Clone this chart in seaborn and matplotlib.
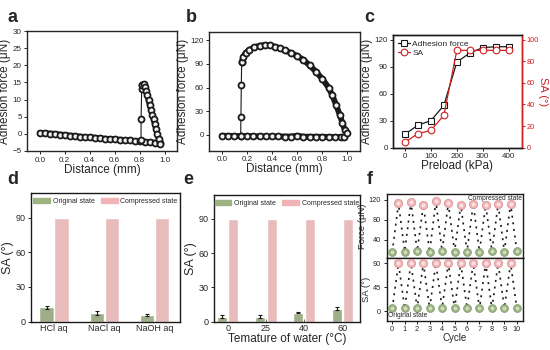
import matplotlib
matplotlib.use("Agg")
import numpy as np
import pandas as pd
import seaborn as sns
import matplotlib.pyplot as plt

# ---- data ----
# a: force-distance curve, small adhesion
a_base_x = [0.00, 0.04, 0.08, 0.12, 0.16, 0.20, 0.24, 0.28, 0.32, 0.36, 0.40, 0.44, 0.48,
            0.52, 0.56, 0.60, 0.64, 0.68, 0.72, 0.76, 0.80, 0.84, 0.88, 0.92, 0.96]
a_base_y = [0.3, 0.2, 0.1, 0.0, -0.2, -0.3, -0.5, -0.6, -0.8, -0.9, -1.0, -1.1, -1.3,
            -1.4, -1.5, -1.6, -1.7, -1.8, -1.9, -2.1, -2.2, -2.3, -2.4, -2.6, -2.8]
a_jump_x = [0.81, 0.81, 0.815, 0.82]
a_jump_y = [-1.7, 4.2, 13.0, 14.3]
a_ret_x = [0.82, 0.83, 0.84, 0.85, 0.86, 0.87, 0.88, 0.89, 0.90, 0.91, 0.92, 0.93, 0.94, 0.95, 0.96]
a_ret_y = [14.3, 14.5, 13.8, 12.5, 11.2, 9.8, 8.4, 7.0, 5.6, 4.2, 2.8, 1.4, 0.0, -1.4, -2.9]

# b: force-distance curve, large adhesion
b_base_x = [0.00, 0.05, 0.10, 0.15, 0.20, 0.25, 0.30, 0.35, 0.40, 0.45, 0.50, 0.55, 0.60,
            0.65, 0.70, 0.75, 0.80, 0.85, 0.90, 0.95, 0.97]
b_base_y = [-1.0, -1.2, -1.3, -1.5, -1.5, -1.6, -1.7, -1.8, -1.8, -1.9, -2.0, -2.0, -1.0,
            -2.2, -2.3, -2.3, -2.4, -2.5, -2.6, -2.7, -2.5]
b_jump_x = [0.15, 0.152, 0.155, 0.158]
b_jump_y = [-1.5, 23, 63, 92]
b_ret_x = [0.158, 0.17, 0.19, 0.22, 0.26, 0.30, 0.34, 0.38, 0.42, 0.46, 0.50, 0.55, 0.60,
           0.65, 0.70, 0.75, 0.80, 0.85, 0.88, 0.91, 0.94, 0.96, 0.98, 1.00]
b_ret_y = [92, 99, 104, 108, 111, 113, 114, 113.5, 112, 110, 107, 104, 100,
           95, 88, 80, 71, 60, 50, 38, 25, 15, 6, 2]

# c: preload dependence
preload = [0, 50, 100, 150, 200, 250, 300, 350, 400]
adhesion = [15, 25, 30, 47, 95, 105, 111, 112, 112]
sa_preload = [5, 13, 16, 30, 90, 90, 90, 90, 90]

# d: solutions
sol_cats = ["HCl aq", "NaCl aq", "NaOH aq"]
sol_orig = [12.5, 7.5, 5.5]
sol_orig_err = [1.2, 1.8, 0.8]
sol_comp = [90, 90, 90]

# e: water temperature
temp_cats = ["0", "25", "40", "60"]
temp_orig = [4.5, 4.5, 8.0, 11.5]
temp_orig_err = [1.2, 1.0, 0.8, 1.5]
temp_comp = [90, 90, 90, 90]

# f: cycling
cyc_orig = [0, 1, 2, 3, 4, 5, 6, 7, 8, 9, 10]
cyc_comp = [0.5, 1.5, 2.5, 3.5, 4.5, 5.5, 6.5, 7.5, 8.5, 9.5]
force_orig = [15, 16, 17, 15, 17, 16, 16, 16, 17, 16, 17]
force_comp = [113, 116, 110, 117, 113, 110, 112, 110, 111, 112]
sa_orig = [5, 5, 6, 5, 6, 5, 6, 5, 5, 6, 5]
sa_comp = [90, 90, 90, 90, 90, 90, 90, 90, 90, 90]

GREEN = "#9DB482"
PINK = "#F0B4B6"
RED = "#D21F1F"

sns.set_theme(style="ticks")
plt.rcParams["font.family"] = ["Liberation Sans", "DejaVu Sans"]
plt.rcParams["axes.linewidth"] = 1.0
plt.rcParams["xtick.major.size"] = 2.5
plt.rcParams["ytick.major.size"] = 2.5
plt.rcParams["xtick.major.width"] = 0.7
plt.rcParams["ytick.major.width"] = 0.7
plt.rcParams["xtick.major.pad"] = 1.5
plt.rcParams["ytick.major.pad"] = 1.5

LAB = 8.5
TICK = 5.8

fig = plt.figure(figsize=(5.5, 3.5), dpi=100)


def frame(ax):
    for s in ax.spines.values():
        s.set_visible(True)
        s.set_color("k")
        s.set_linewidth(1.0)


def fd_part(ax, x, y, band=True):
    if band:
        sns.lineplot(x=x, y=y, ax=ax, sort=False, estimator=None, color="k", lw=4.2)
    sns.lineplot(x=x, y=y, ax=ax, sort=False, estimator=None, color="k", lw=0.8,
                 marker="o", ms=4.3, mfc="#f2f2f2", mec="k", mew=1.3)


# ---- a ----
ax_a = fig.add_axes([0.0496, 0.5686, 0.2728, 0.3428])
fd_part(ax_a, a_base_x, a_base_y)
fd_part(ax_a, a_jump_x, a_jump_y, band=False)
fd_part(ax_a, a_ret_x, a_ret_y)
ax_a.set_xlim(-0.1, 1.1)
ax_a.set_ylim(-5, 30)
ax_a.set_xticks([0.0, 0.2, 0.4, 0.6, 0.8, 1.0])
ax_a.set_yticks(range(-5, 31, 5))
ax_a.set_xlabel("Distance (mm)", fontsize=LAB, labelpad=0)
ax_a.set_ylabel("Adhesion force (μN)", fontsize=LAB, labelpad=1)
ax_a.tick_params(labelsize=TICK)

# ---- b ----
ax_b = fig.add_axes([0.3805, 0.5694, 0.274, 0.3383])
fd_part(ax_b, b_base_x, b_base_y)
fd_part(ax_b, b_jump_x, b_jump_y, band=False)
fd_part(ax_b, b_ret_x, b_ret_y)
ax_b.set_xlim(-0.1, 1.1)
ax_b.set_ylim(-20, 130)
ax_b.set_xticks([0.0, 0.2, 0.4, 0.6, 0.8, 1.0])
ax_b.set_yticks([0, 30, 60, 90, 120])
ax_b.set_xlabel("Distance (mm)", fontsize=LAB, labelpad=0)
ax_b.set_ylabel("Adhesion force (μN)", fontsize=LAB, labelpad=1)
ax_b.tick_params(labelsize=TICK)

# ---- c ----
ax_c = fig.add_axes([0.7151, 0.578, 0.2334, 0.322])
sns.lineplot(x=preload, y=adhesion, ax=ax_c, color="k", lw=0.9, marker="s", ms=4.5,
             mfc="white", mec="k", mew=0.8, label="Adhesion force")
ax_c2 = ax_c.twinx()
sns.lineplot(x=preload, y=sa_preload, ax=ax_c2, color=RED, lw=0.9, marker="o", ms=4.8,
             mfc="white", mec=RED, mew=0.8, label="SA")
for a in (ax_c, ax_c2):
    if a.get_legend() is not None:
        a.get_legend().remove()
ax_c.set_xlim(-45, 450)
ax_c.set_ylim(0, 125)
ax_c2.set_ylim(0, 104.2)
ax_c.set_xticks([0, 100, 200, 300, 400])
ax_c.set_yticks([0, 30, 60, 90, 120])
ax_c2.set_yticks([0, 20, 40, 60, 80, 100])
ax_c.set_xlabel("Preload (kPa)", fontsize=LAB, labelpad=0)
ax_c.set_ylabel("Adhesion force (μN)", fontsize=LAB, labelpad=1)
ax_c2.set_ylabel("SA (°)", fontsize=8, color=RED, rotation=270, va="center", ha="center")
ax_c2.yaxis.set_label_coords(1.165, 0.5)
ax_c.tick_params(labelsize=TICK)
ax_c2.tick_params(labelsize=5.3, colors=RED, pad=1)
frame(ax_c2)
ax_c2.spines["right"].set_color(RED)
h1, l1 = ax_c.get_legend_handles_labels()
h2, l2 = ax_c2.get_legend_handles_labels()
ax_c2.legend(h1 + h2, l1 + l2, loc="upper left", frameon=False, fontsize=6,
             handlelength=1.4, handletextpad=0.3, borderaxespad=0.2, labelspacing=0.2)


# ---- d & e: bars ----
def bar_panel(ax, cats, orig, err, comp, xlim, width, gap):
    df = pd.DataFrame({
        "cat": cats * 2,
        "val": orig + comp,
        "state": ["Original state"] * len(cats) + ["Compressed state"] * len(cats),
    })
    sns.barplot(data=df, x="cat", y="val", hue="state", palette=[GREEN, PINK],
                width=width, gap=gap, errorbar=None, ax=ax, legend=False)
    for bar, e in zip(ax.containers[0], err):
        ax.errorbar(bar.get_x() + bar.get_width() / 2, bar.get_height(), yerr=e,
                    fmt="none", ecolor="k", elinewidth=0.8, capsize=1.2, capthick=0.8)
    ax.set_xlim(*xlim)
    ax.set_ylim(0, 111)
    ax.set_yticks([0, 30, 60, 90])
    ax.set_ylabel("SA (°)", fontsize=9, labelpad=1)
    ax.tick_params(axis="x", direction="in", length=2, labelsize=6.5, pad=2)
    ax.tick_params(axis="y", labelsize=6.5)
    handles = [plt.Rectangle((0, 0), 1, 1, color=GREEN), plt.Rectangle((0, 0), 1, 1, color=PINK)]
    ax.legend(handles, ["Original state", "Compressed state"], loc="center",
              bbox_to_anchor=(0.5, 0.935), ncol=2, frameon=False, fontsize=5,
              handlelength=2.4, handleheight=0.8, handletextpad=0.4, columnspacing=0.9)
    frame(ax)


ax_d = fig.add_axes([0.0564, 0.0809, 0.2706, 0.3668])
bar_panel(ax_d, sol_cats, sol_orig, sol_orig_err, sol_comp, (-0.46, 2.5), 0.6, 0.04)
ax_d.set_xlabel("")

ax_e = fig.add_axes([0.389, 0.0809, 0.2655, 0.3621])
bar_panel(ax_e, temp_cats, temp_orig, temp_orig_err, temp_comp, (-0.36, 3.46), 0.6, 0.12)
ax_e.set_xlabel("Temature of water (°C)", fontsize=LAB, labelpad=0)

# ---- f: cycling ----
ax_f1 = fig.add_axes([0.703, 0.2629, 0.248, 0.1828])
ax_f2 = fig.add_axes([0.703, 0.0837, 0.248, 0.1792])


def cycle_panel(ax, y_orig, y_comp):
    zx, zy = [], []
    for i in range(len(cyc_comp)):
        zx += [cyc_orig[i], cyc_comp[i]]
        zy += [y_orig[i], y_comp[i]]
    zx.append(cyc_orig[-1])
    zy.append(y_orig[-1])
    sns.lineplot(x=zx, y=zy, ax=ax, sort=False, estimator=None, color="k", lw=1.2,
                 linestyle=(0, (1.2, 2.8)))
    sns.scatterplot(x=cyc_comp, y=y_comp, ax=ax, s=36, color=PINK, edgecolor="#d98e92",
                    linewidth=0.5, zorder=3)
    sns.scatterplot(x=cyc_comp, y=y_comp, ax=ax, s=8, color="#fbe3e4", linewidth=0, zorder=4)
    sns.scatterplot(x=cyc_orig, y=y_orig, ax=ax, s=32, color=GREEN, edgecolor="#7f9866",
                    linewidth=0.5, zorder=3)
    sns.scatterplot(x=cyc_orig, y=y_orig, ax=ax, s=7, color="#d2dfc4", linewidth=0, zorder=4)
    ax.set_xlim(-0.45, 10.5)
    ax.set_xticks(range(0, 11))
    ax.tick_params(labelsize=5.3)
    frame(ax)


cycle_panel(ax_f1, force_orig, force_comp)
ax_f1.set_ylim(3, 132)
ax_f1.set_yticks([40, 80, 120])
ax_f1.tick_params(axis="x", labelbottom=False, length=0)
ax_f1.set_ylabel("Force (μN)", fontsize=6.8, labelpad=1)
ax_f1.text(0.99, 0.985, "Compressed state", transform=ax_f1.transAxes, ha="right",
           va="top", fontsize=4.8)

cycle_panel(ax_f2, sa_orig, sa_comp)
ax_f2.set_ylim(-18, 100)
ax_f2.set_yticks([0, 45, 90])
ax_f2.set_ylabel("SA (°)", fontsize=6.8, labelpad=1)
ax_f2.set_xlabel("Cycle", fontsize=7, labelpad=0)
ax_f2.text(0.01, 0.02, "Original state", transform=ax_f2.transAxes, ha="left",
           va="bottom", fontsize=4.8)

# panel letters
for lbl, x, y in [("a", 0.013, 0.925), ("b", 0.338, 0.925), ("c", 0.662, 0.925),
                  ("d", 0.013, 0.462), ("e", 0.333, 0.462), ("f", 0.666, 0.462)]:
    fig.text(x, y, lbl, fontsize=13, fontweight="bold", va="bottom", ha="left")

fig.savefig("out.png", dpi=100)
